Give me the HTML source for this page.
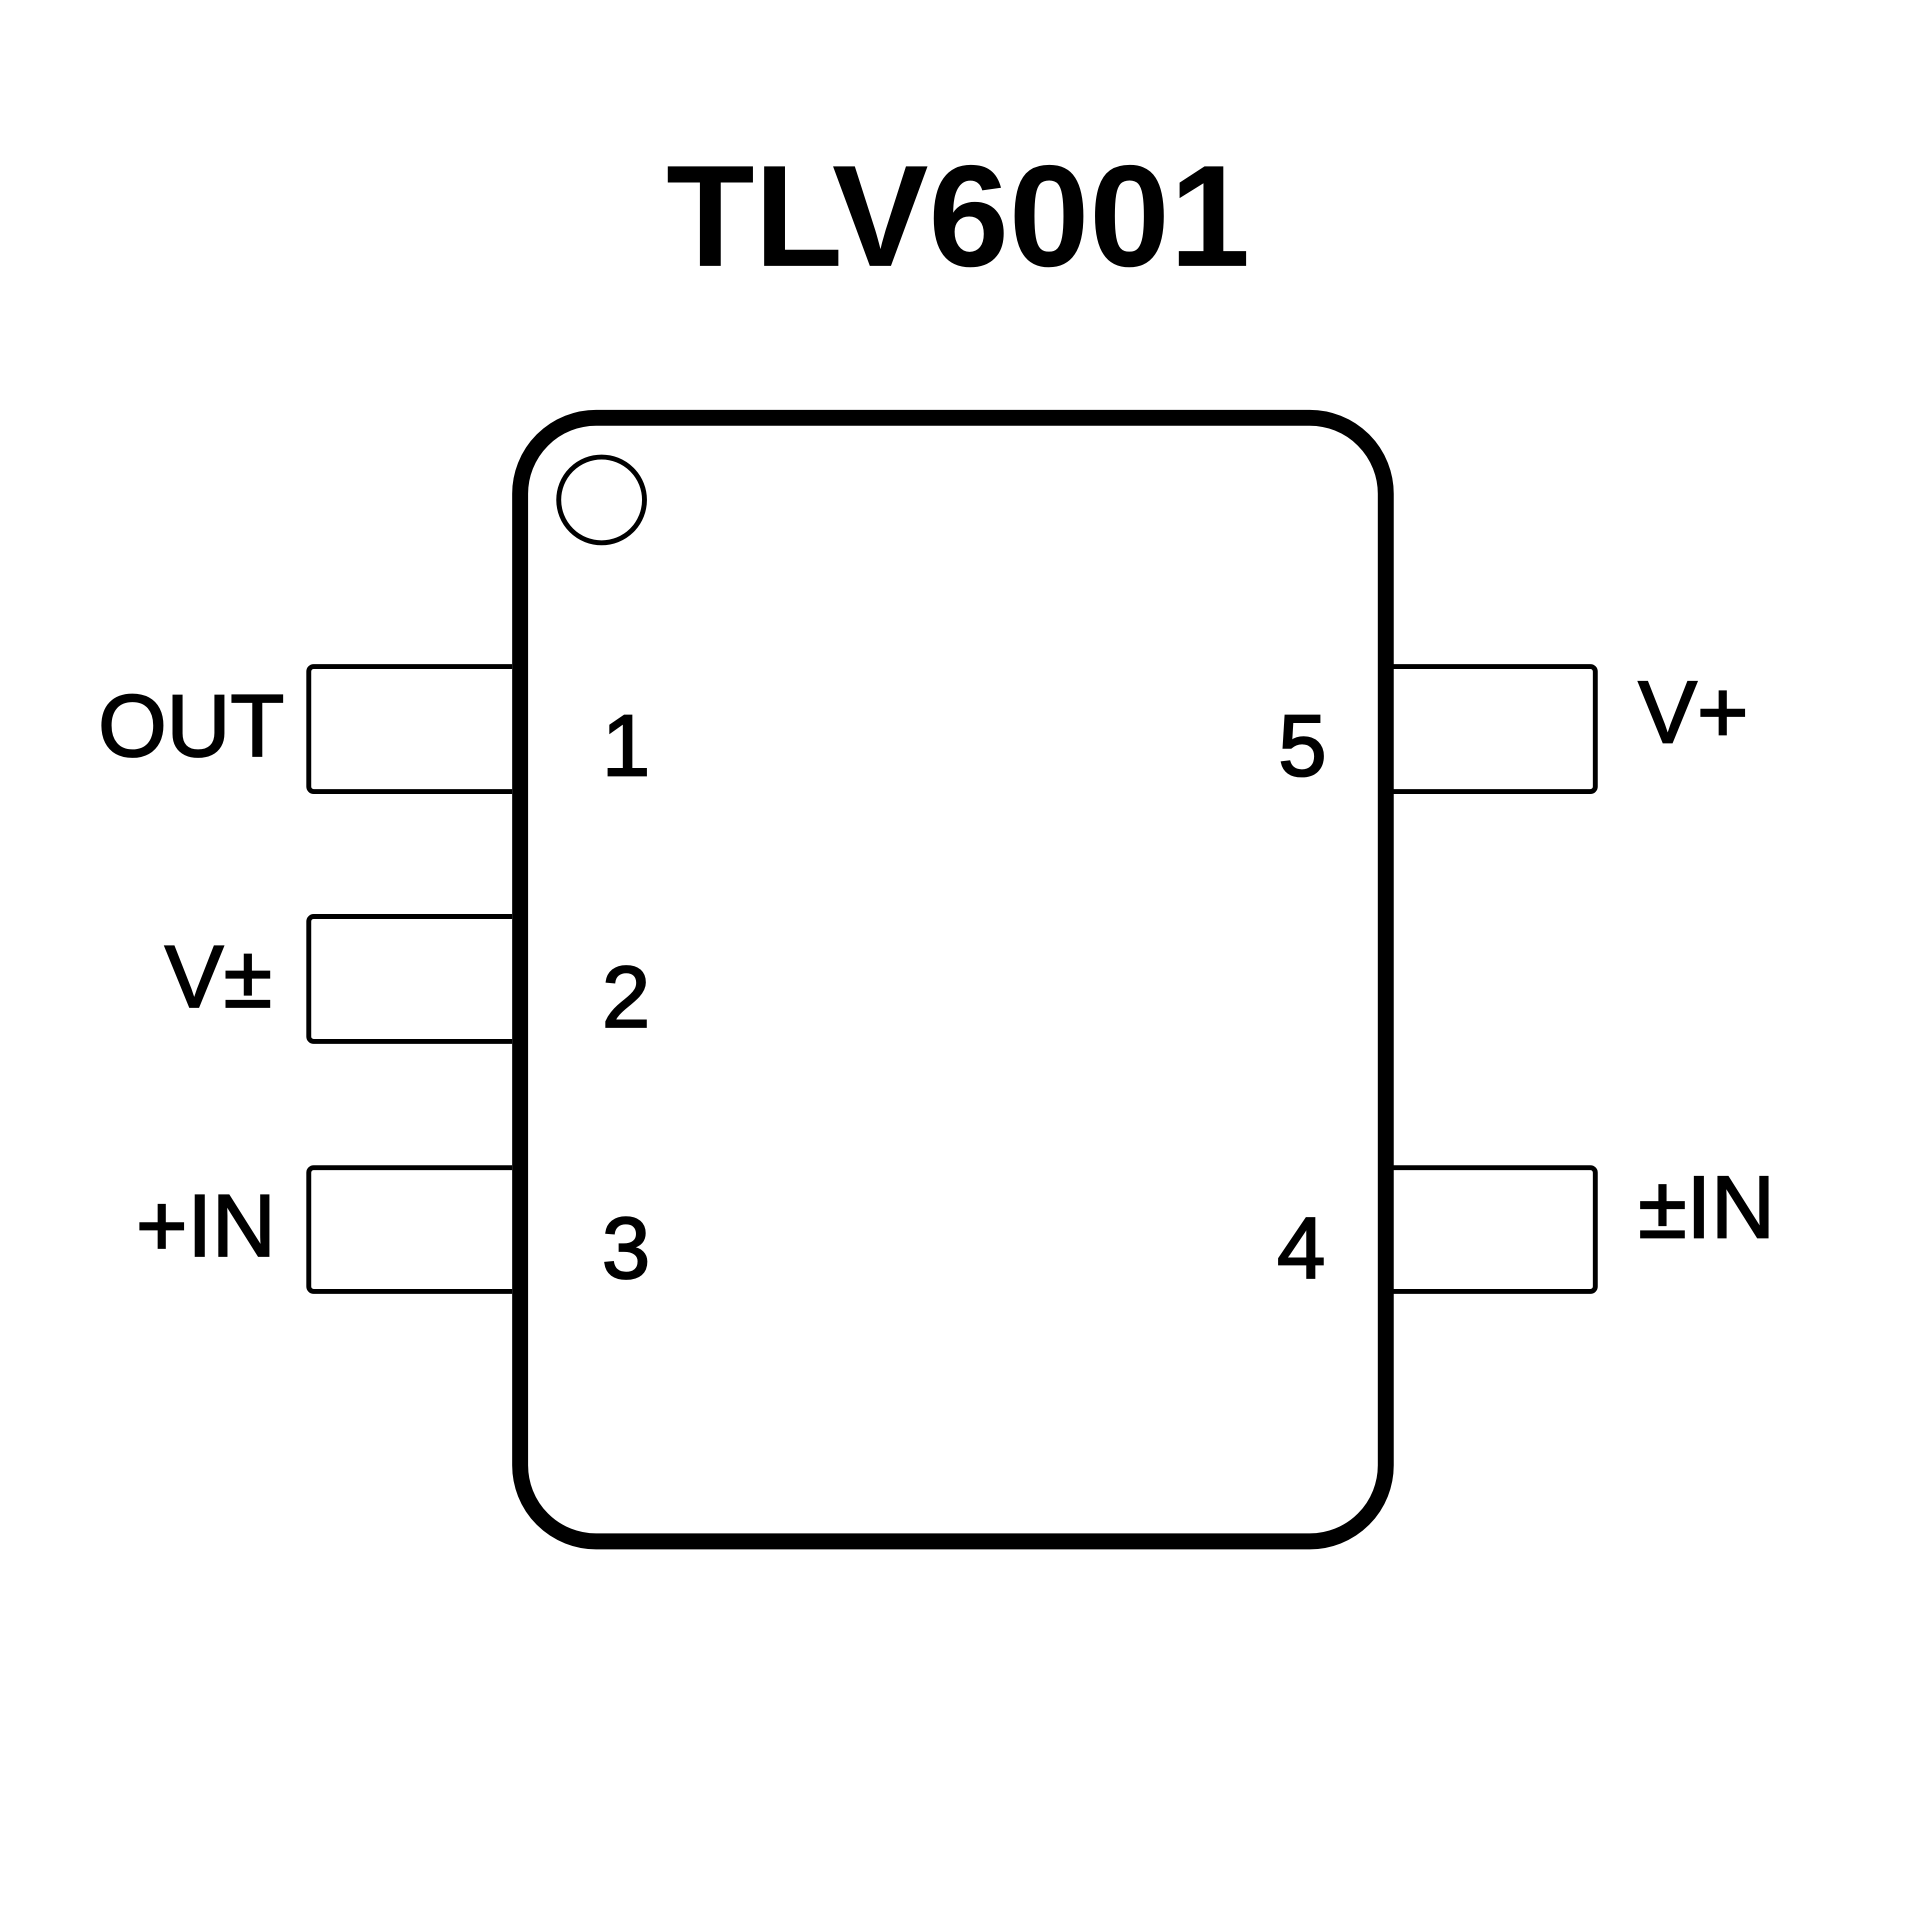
<!DOCTYPE html>
<html><head><meta charset="utf-8"><style>
html,body{margin:0;padding:0;background:#fff;}
svg{display:block;}
text{font-family:"Liberation Sans",Arial,sans-serif;fill:#000;}
</style></head><body>
<svg width="1920" height="1920" viewBox="0 0 1567 1567" xmlns="http://www.w3.org/2000/svg">
<rect width="1567" height="1567" fill="#fff"/>
<text x="782" y="217" font-size="118" font-weight="bold" text-anchor="middle">TLV6001</text>
<rect x="424.5" y="341" width="706.5" height="917" rx="62" ry="62" fill="none" stroke="#000" stroke-width="13"/>
<circle cx="491" cy="408" r="35" fill="none" stroke="#000" stroke-width="4"/>
<g fill="none" stroke="#000" stroke-width="4">
<path d="M418 544 H256 a4 4 0 0 0 -4 4 V642 a4 4 0 0 0 4 4 H418"/>
<path d="M418 748 H256 a4 4 0 0 0 -4 4 V846 a4 4 0 0 0 4 4 H418"/>
<path d="M418 953 H256 a4 4 0 0 0 -4 4 V1050 a4 4 0 0 0 4 4 H418"/>
<path d="M1137 544 H1298 a4 4 0 0 1 4 4 V642 a4 4 0 0 1 -4 4 H1137"/>
<path d="M1137 953 H1298 a4 4 0 0 1 4 4 V1050 a4 4 0 0 1 -4 4 H1137"/>
</g>
<g font-size="72" stroke="#000" stroke-width="1.5">
<text x="232" y="617" text-anchor="end">OUT</text>
<text x="222" y="822" text-anchor="end">V±</text>
<text x="225" y="1025" text-anchor="end">+IN</text>
<text x="1337" y="606">V+</text>
<text x="1337" y="1010">±IN</text>
</g>
<g font-size="71" text-anchor="middle" stroke="#000" stroke-width="1.5">
<text x="511" y="633">1</text>
<text x="511" y="838">2</text>
<text x="511" y="1043">3</text>
<text x="1062" y="1043">4</text>
<text x="1063" y="633">5</text>
</g>
</svg>
</body></html>
